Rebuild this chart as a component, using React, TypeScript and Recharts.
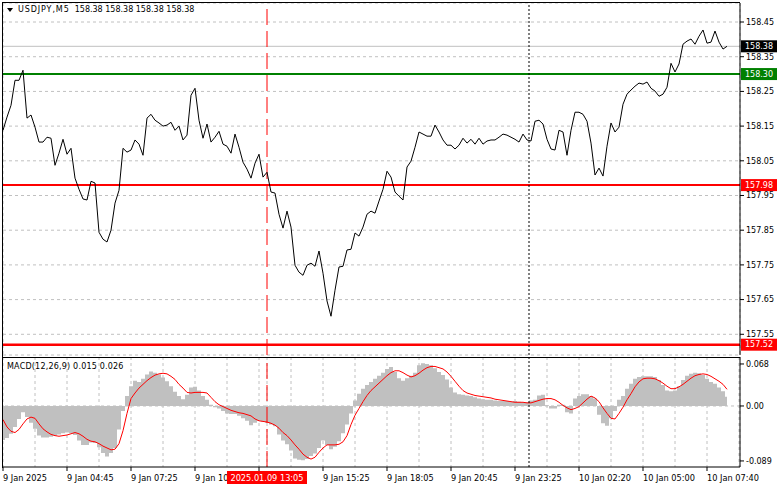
import { LineChart, Line, ComposedChart, Area, XAxis, YAxis, CartesianGrid, ReferenceLine } from 'recharts';

// USDJPY M5 closes, one value every 2 bars (10 min), from 9 Jan 02:05
const closes = [
  158.138, 158.176, 158.210, 158.282, 158.282, 158.311, 158.173, 158.182, 158.147, 158.104,
  158.104, 158.118, 158.115, 158.037, 158.072, 158.112, 158.069, 158.086, 158.000, 157.968,
  157.940, 157.937, 157.991, 157.986, 157.844, 157.824, 157.816, 157.850, 157.928, 157.965,
  158.086, 158.075, 158.081, 158.110, 158.098, 158.066, 158.173, 158.184, 158.167, 158.159,
  158.150, 158.153, 158.161, 158.138, 158.150, 158.110, 158.124, 158.239, 158.259, 158.167,
  158.115, 158.156, 158.104, 158.118, 158.135, 158.098, 158.092, 158.072, 158.127, 158.089,
  158.046, 158.026, 158.000, 158.043, 158.069, 158.003, 158.017, 157.960, 157.957, 157.896,
  157.856, 157.905, 157.859, 157.749, 157.729, 157.720, 157.749, 157.755, 157.746, 157.790,
  157.726, 157.646, 157.602, 157.677, 157.744, 157.746, 157.793, 157.795, 157.842, 157.833,
  157.859, 157.896, 157.905, 157.899, 157.934, 157.968, 158.020, 158.003, 157.960, 157.948,
  157.937, 158.032, 158.049, 158.089, 158.133, 158.127, 158.121, 158.121, 158.153, 158.133,
  158.110, 158.095, 158.095, 158.084, 158.095, 158.115, 158.101, 158.112, 158.098, 158.115,
  158.098, 158.107, 158.110, 158.110, 158.118, 158.127, 158.124, 158.118, 158.112, 158.104,
  158.127, 158.110, 158.107, 158.164, 158.167, 158.156, 158.112, 158.084, 158.081, 158.138,
  158.133, 158.066, 158.138, 158.190, 158.190, 158.184, 158.164, 158.101, 158.009, 158.029,
  158.006, 158.092, 158.159, 158.133, 158.147, 158.213, 158.242, 158.254, 158.265, 158.274,
  158.271, 158.277, 158.259, 158.251, 158.236, 158.242, 158.262, 158.331, 158.306, 158.329,
  158.386, 158.395, 158.401, 158.386, 158.409, 158.427, 158.389, 158.392, 158.424, 158.392,
  158.372, 158.380,
];

// MACD(12,26,9) main (histogram) and signal
const macdMain = [
  -0.055, -0.052, -0.045, -0.034, -0.021, -0.010, -0.018, -0.027, -0.037, -0.048,
  -0.051, -0.051, -0.050, -0.048, -0.046, -0.044, -0.043, -0.044, -0.047, -0.056,
  -0.063, -0.063, -0.059, -0.060, -0.067, -0.076, -0.082, -0.076, -0.068, -0.038,
  -0.008, 0.016, 0.032, 0.041, 0.039, 0.044, 0.051, 0.056, 0.054, 0.051,
  0.046, 0.040, 0.032, 0.023, 0.016, 0.011, 0.018, 0.030, 0.031, 0.025,
  0.016, 0.010, 0.002, -0.002, -0.004, -0.008, -0.012, -0.013, -0.013, -0.016,
  -0.020, -0.024, -0.031, -0.027, -0.024, -0.025, -0.027, -0.030, -0.033, -0.046,
  -0.056, -0.062, -0.072, -0.085, -0.087, -0.088, -0.086, -0.081, -0.077, -0.068,
  -0.056, -0.063, -0.070, -0.066, -0.057, -0.044, -0.030, -0.012, 0.009, 0.020,
  0.028, 0.034, 0.039, 0.044, 0.049, 0.054, 0.060, 0.063, 0.055, 0.045,
  0.041, 0.045, 0.049, 0.054, 0.066, 0.069, 0.068, 0.066, 0.061, 0.055,
  0.050, 0.043, 0.030, 0.022, 0.019, 0.018, 0.017, 0.016, 0.014, 0.012,
  0.011, 0.010, 0.010, 0.009, 0.008, 0.008, 0.008, 0.007, 0.008, 0.007,
  0.006, 0.006, 0.009, 0.010, 0.017, 0.018, 0.001, -0.004, -0.004, 0.002,
  0.002, -0.010, -0.012, 0.012, 0.016, 0.019, 0.019, 0.016, 0.012, -0.014,
  -0.028, -0.032, -0.020, -0.008, 0.010, 0.016, 0.028, 0.036, 0.044, 0.047,
  0.048, 0.048, 0.048, 0.047, 0.042, 0.034, 0.025, 0.024, 0.025, 0.032,
  0.042, 0.049, 0.052, 0.054, 0.053, 0.050, 0.044, 0.039, 0.036, 0.030,
  0.024, 0.015,
];

const macdSignal = [
  -0.022, -0.034, -0.041, -0.043, -0.038, -0.029, -0.021, -0.018, -0.020, -0.029,
  -0.037, -0.042, -0.046, -0.048, -0.049, -0.048, -0.047, -0.045, -0.043, -0.045,
  -0.049, -0.054, -0.057, -0.058, -0.061, -0.065, -0.068, -0.071, -0.070, -0.061,
  -0.040, -0.012, 0.012, 0.021, 0.029, 0.035, 0.041, 0.046, 0.050, 0.052,
  0.053, 0.052, 0.048, 0.043, 0.035, 0.029, 0.022, 0.021, 0.022, 0.022,
  0.022, 0.021, 0.014, 0.007, 0.002, -0.001, -0.004, -0.007, -0.009, -0.011,
  -0.012, -0.014, -0.016, -0.021, -0.024, -0.025, -0.026, -0.028, -0.031, -0.036,
  -0.043, -0.048, -0.055, -0.063, -0.070, -0.078, -0.083, -0.086, -0.083, -0.075,
  -0.068, -0.063, -0.063, -0.063, -0.062, -0.058, -0.048, -0.030, -0.015, -0.004,
  0.007, 0.017, 0.025, 0.031, 0.037, 0.043, 0.049, 0.054, 0.057, 0.057,
  0.054, 0.050, 0.047, 0.049, 0.053, 0.058, 0.062, 0.064, 0.064, 0.062,
  0.060, 0.055, 0.048, 0.040, 0.032, 0.025, 0.021, 0.019, 0.017, 0.016,
  0.015, 0.014, 0.013, 0.011, 0.010, 0.009, 0.008, 0.007, 0.006, 0.006,
  0.006, 0.005, 0.005, 0.007, 0.009, 0.011, 0.012, 0.012, 0.010, 0.006,
  0.001, -0.003, -0.006, -0.004, -0.001, 0.005, 0.011, 0.016, 0.013, 0.007,
  -0.003, -0.012, -0.020, -0.021, -0.012, -0.002, 0.010, 0.020, 0.031, 0.039,
  0.044, 0.045, 0.045, 0.044, 0.041, 0.037, 0.032, 0.028, 0.028, 0.031,
  0.035, 0.040, 0.045, 0.049, 0.051, 0.052, 0.051, 0.048, 0.044, 0.040,
  0.035, 0.027,
];

const timeTicks = [0, 16, 32, 48, 64, 80, 96, 112, 128, 144, 160, 176];
const timeLabels = [
  '9 Jan 2025', '9 Jan 04:45', '9 Jan 07:25', '9 Jan 10:05', '9 Jan 12:45', '9 Jan 15:25',
  '9 Jan 18:05', '9 Jan 20:45', '9 Jan 23:25', '10 Jan 02:20', '10 Jan 05:00', '10 Jan 07:40',
];
const priceTicks = [157.55, 157.65, 157.75, 157.85, 157.95, 158.05, 158.15, 158.25, 158.35, 158.45];
const macdTicks = [-0.089, 0, 0.068];

const bidPrice = 158.38;
const resistance = 158.30;
const support1 = 157.98;
const support2 = 157.52;
const cursorBar = 66;
const cursorLabel = '2025.01.09 13:05';
const daySeparatorBar = 131.5;

const data = closes.map((price, i) => ({ i, price, hist: macdMain[i], signal: macdSignal[i] }));
const gridTicks = Array.from({ length: 24 }, (_, k) => k * 8);
const xDomain = [0, 184.25];

const FONT = '"DejaVu Sans", Verdana, sans-serif';
const GRID = '#c0c0c0';

function PriceTag(props: any) {
  const { viewBox, text, fill } = props;
  if (!viewBox) return null;
  const right = viewBox.x + viewBox.width;
  return (
    <g>
      <rect x={right + 1} y={viewBox.y - 6} width={36} height={12} fill={fill} />
      <text x={right + 5} y={viewBox.y} dy="0.35em" fontSize={8} fontFamily={FONT} fill="#fff">
        {text}
      </text>
    </g>
  );
}

// bottom time labels; the crosshair date tag is the last tick so it is drawn on top
function TimeTick(props: any) {
  const { x, y, payload } = props;
  if (payload.value === cursorBar) {
    return (
      <g>
        <rect x={x - 40} y={y + 4} width={80} height={13} fill="#ff0000" />
        <text x={x} y={y + 14} textAnchor="middle" fontSize={8.2} fontFamily={FONT} fill="#fff">
          {cursorLabel}
        </text>
      </g>
    );
  }
  const idx = timeTicks.indexOf(payload.value);
  if (idx < 0) return null;
  return (
    <g>
      <line x1={x} x2={x} y1={y} y2={y + 4} stroke="#000" />
      <text x={x} y={y + 14} textAnchor="start" fontSize={8.2} fontFamily={FONT} fill="#000">
        {timeLabels[idx]}
      </text>
    </g>
  );
}

const tickStyle = { fontSize: 8, fontFamily: FONT, fill: '#000' };

export default function App() {
  return (
    <div style={{ position: 'absolute', left: 0, top: 0, width: 781, height: 489, background: '#fff', overflow: 'hidden' }}>
      <div style={{ position: 'absolute', left: 0, top: 0 }}>
        <LineChart width={781} height={357} data={data} margin={{ top: 3, right: 0, bottom: 2, left: 3 }}>
          <CartesianGrid stroke={GRID} strokeDasharray="3 3" />
          <XAxis
            dataKey="i"
            type="number"
            domain={xDomain}
            allowDataOverflow
            ticks={gridTicks}
            interval={0}
            tick={false}
            tickLine={false}
            height={0}
            axisLine={{ stroke: '#000' }}
          />
          <YAxis
            orientation="right"
            width={41}
            type="number"
            domain={[157.4903, 158.5048]}
            allowDataOverflow
            ticks={priceTicks}
            interval={0}
            tickSize={4}
            tickMargin={2}
            tickFormatter={(v: number) => v.toFixed(2)}
            tick={tickStyle}
            axisLine={{ stroke: '#000' }}
            tickLine={{ stroke: '#000' }}
          />
          <ReferenceLine y={bidPrice} stroke={GRID} strokeWidth={1} label={<PriceTag text="158.38" fill="#000" />} />
          <ReferenceLine y={resistance} stroke="#008000" strokeWidth={2} label={<PriceTag text="158.30" fill="#008000" />} />
          <ReferenceLine y={support1} stroke="#ff0000" strokeWidth={2} label={<PriceTag text="157.98" fill="#ff0000" />} />
          <ReferenceLine y={support2} stroke="#ff0000" strokeWidth={2.5} label={<PriceTag text="157.52" fill="#ff0000" />} />
          <ReferenceLine x={cursorBar} stroke="#ff0000" strokeDasharray="16 6" />
          <ReferenceLine x={daySeparatorBar} stroke="#000" strokeDasharray="2 2" />
          <Line dataKey="price" type="linear" stroke="#000" strokeWidth={1} dot={false} isAnimationActive={false} />
        </LineChart>
      </div>

      <div style={{ position: 'absolute', left: 0, top: 357 }}>
        <ComposedChart width={781} height={132} data={data} margin={{ top: 0, right: 0, bottom: 0, left: 3 }}>
          <CartesianGrid stroke={GRID} strokeDasharray="3 3" horizontal={false} />
          <XAxis
            dataKey="i"
            type="number"
            domain={xDomain}
            allowDataOverflow
            ticks={[...gridTicks, cursorBar]}
            interval={0}
            height={22}
            tickSize={0}
            tickMargin={0}
            tickLine={false}
            tick={<TimeTick />}
            axisLine={{ stroke: '#000' }}
          />
          <YAxis
            orientation="right"
            width={41}
            type="number"
            domain={[-0.0988, 0.0793]}
            allowDataOverflow
            ticks={macdTicks}
            interval={0}
            tickSize={4}
            tickMargin={2}
            tickFormatter={(v: number) => (v === 0 ? '0.00' : v.toFixed(3))}
            tick={tickStyle}
            axisLine={{ stroke: '#000' }}
            tickLine={{ stroke: '#000' }}
          />
          <ReferenceLine y={0} stroke={GRID} strokeDasharray="3 3" />
          <Area dataKey="hist" type="step" stroke="none" fill="#c0c0c0" fillOpacity={1} dot={false} activeDot={false} isAnimationActive={false} />
          <Line dataKey="signal" type="linear" stroke="#ff0000" strokeWidth={1} dot={false} isAnimationActive={false} />
          <ReferenceLine x={daySeparatorBar} stroke="#000" strokeDasharray="2 2" />
          <ReferenceLine x={cursorBar} stroke="#ff0000" strokeDasharray="16 6" />
        </ComposedChart>
      </div>

      {/* window frame */}
      <div style={{ position: 'absolute', left: 2, top: 2, width: 738, height: 1, background: '#000' }} />
      <div style={{ position: 'absolute', left: 2, top: 2, width: 1, height: 466, background: '#000' }} />
      <div style={{ position: 'absolute', left: 2, top: 357, width: 738, height: 1, background: '#000' }} />

      {/* titles */}
      <div style={{ position: 'absolute', left: 7, top: 8, width: 0, height: 0, borderLeft: '3px solid transparent', borderRight: '3px solid transparent', borderTop: '4px solid #000' }} />
      <div style={{ position: 'absolute', left: 18, top: 5, fontFamily: FONT, fontSize: 8, lineHeight: '10px', color: '#000', whiteSpace: 'pre' }}>
        <span style={{ letterSpacing: 0.9 }}>USDJPY,M5</span>
        {'  158.38 158.38 158.38 158.38'}
      </div>
      <div style={{ position: 'absolute', left: 7, top: 362, fontFamily: FONT, fontSize: 8, lineHeight: '10px', color: '#000', letterSpacing: 0.2, whiteSpace: 'pre' }}>
        MACD(12,26,9) 0.015 0.026
      </div>
    </div>
  );
}
